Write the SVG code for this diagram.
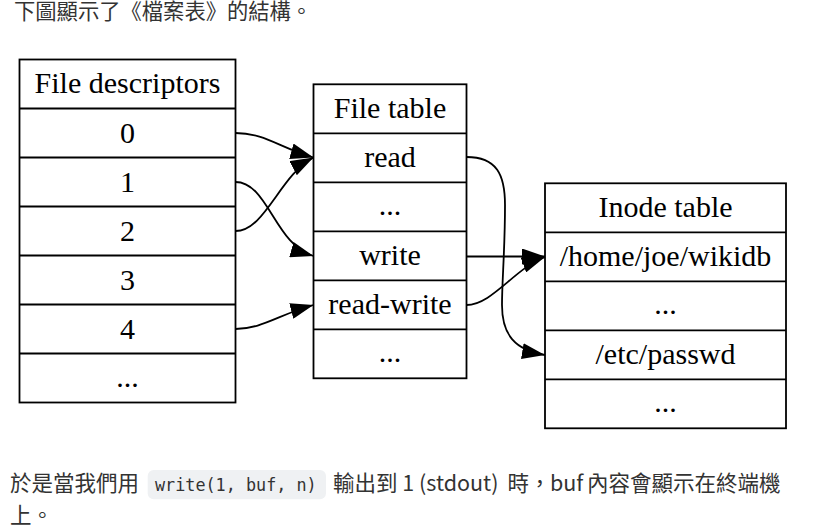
<svg xmlns="http://www.w3.org/2000/svg" width="827" height="527" viewBox="0 0 827 527">
<style>
.bg{fill:#fff}
.box{fill:#fff;stroke:#000;stroke-width:1.8}
.sep{stroke:#000;stroke-width:1.8}
.lbl{font-family:"Liberation Serif","Times New Roman",serif;font-size:30px;fill:#000;text-anchor:middle}
.edge{fill:none;stroke:#000;stroke-width:1.8;marker-end:url(#arr)}
.zh{font-family:"Noto Sans CJK TC","Noto Sans",sans-serif;fill:#333}
.code{font-family:"DejaVu Sans Mono","Liberation Mono",monospace;font-size:16.8px;fill:#333}
.codebg{fill:#eff1f3}
</style>
<defs>
<marker id="arr" viewBox="0 0 23 16" refX="23" refY="8" markerWidth="23" markerHeight="16" markerUnits="userSpaceOnUse" orient="auto">
<path d="M0,0 L23,8 L0,16 Z" fill="#000"/>
</marker>
</defs>
<rect class="bg" x="0" y="0" width="827" height="527"/>
<g id="caption-top">
<text class="zh" x="14" y="19" font-size="21.3">下圖顯示了《檔案表》的結構。</text>
</g>
<g id="fd">
<rect class="box" x="19.5" y="59.5" width="216" height="343"/>
<line class="sep" x1="19.5" y1="108.5" x2="235.5" y2="108.5"/>
<line class="sep" x1="19.5" y1="157.5" x2="235.5" y2="157.5"/>
<line class="sep" x1="19.5" y1="206.5" x2="235.5" y2="206.5"/>
<line class="sep" x1="19.5" y1="255.5" x2="235.5" y2="255.5"/>
<line class="sep" x1="19.5" y1="304.5" x2="235.5" y2="304.5"/>
<line class="sep" x1="19.5" y1="353.5" x2="235.5" y2="353.5"/>
<text class="lbl" x="127.5" y="93">File descriptors</text>
<text class="lbl" x="127.5" y="142.5">0</text>
<text class="lbl" x="127.5" y="191.5">1</text>
<text class="lbl" x="127.5" y="240.5">2</text>
<text class="lbl" x="127.5" y="289.5">3</text>
<text class="lbl" x="127.5" y="338.5">4</text>
<text class="lbl" x="127.5" y="386.5">...</text>
</g>
<g id="filetable">
<rect class="box" x="313.5" y="84.3" width="153" height="294"/>
<line class="sep" x1="313.5" y1="133.3" x2="466.5" y2="133.3"/>
<line class="sep" x1="313.5" y1="182.3" x2="466.5" y2="182.3"/>
<line class="sep" x1="313.5" y1="231.3" x2="466.5" y2="231.3"/>
<line class="sep" x1="313.5" y1="280.3" x2="466.5" y2="280.3"/>
<line class="sep" x1="313.5" y1="329.3" x2="466.5" y2="329.3"/>
<text class="lbl" x="390" y="117.8">File table</text>
<text class="lbl" x="390" y="166.8">read</text>
<text class="lbl" x="390" y="214.8">...</text>
<text class="lbl" x="390" y="264.8">write</text>
<text class="lbl" x="390" y="313.8">read-write</text>
<text class="lbl" x="390" y="361.8">...</text>
</g>
<g id="inode">
<rect class="box" x="545" y="183.3" width="241" height="245"/>
<line class="sep" x1="545" y1="232.3" x2="786" y2="232.3"/>
<line class="sep" x1="545" y1="281.3" x2="786" y2="281.3"/>
<line class="sep" x1="545" y1="330.3" x2="786" y2="330.3"/>
<line class="sep" x1="545" y1="379.3" x2="786" y2="379.3"/>
<text class="lbl" x="665.5" y="216.8">Inode table</text>
<text class="lbl" x="665.5" y="265.8">/home/joe/wikidb</text>
<text class="lbl" x="665.5" y="313.8">...</text>
<text class="lbl" x="665.5" y="363.8">/etc/passwd</text>
<text class="lbl" x="665.5" y="411.8">...</text>
</g>
<g id="connectors">
<path class="edge" d="M235.5,133 C265,133 280,148 313.5,157.5"/>
<path class="edge" d="M235.5,231 C265,231 280,175 313.5,157.5"/>
<path class="edge" d="M235.5,182 C268,182 275,245 313.5,256"/>
<path class="edge" d="M235.5,329 C262,329 280,314 313.5,305"/>
<path class="edge" d="M466.5,256.5 L545,256.5"/>
<path class="edge" d="M466.5,305 C492,305 515,268 545,257"/>
<path class="edge" d="M466.5,157 C497,157 505,175 505,205 C505,250 502,280 502,305 C502,335 515,350 545,355"/>
</g>
<g id="caption-bottom">
<text class="zh" x="10" y="490.5" font-size="21.5">於是當我們用</text>
<rect class="codebg" x="147.7" y="470" width="178.3" height="29.3" rx="6"/>
<text class="code" x="155" y="491">write(1, buf, n)</text>
<text class="zh" x="333" y="490.5" font-size="21.5">輸出到 1 (stdout)</text>
<text class="zh" x="507.5" y="490.5" font-size="21.5">時，</text>
<text class="zh" x="550" y="490.5" font-size="21.5">buf</text>
<text class="zh" x="587" y="490.5" font-size="21.5">內容會顯示在終端機</text>
<text class="zh" x="10" y="522.5" font-size="21.5">上。</text>
</g>
</svg>
